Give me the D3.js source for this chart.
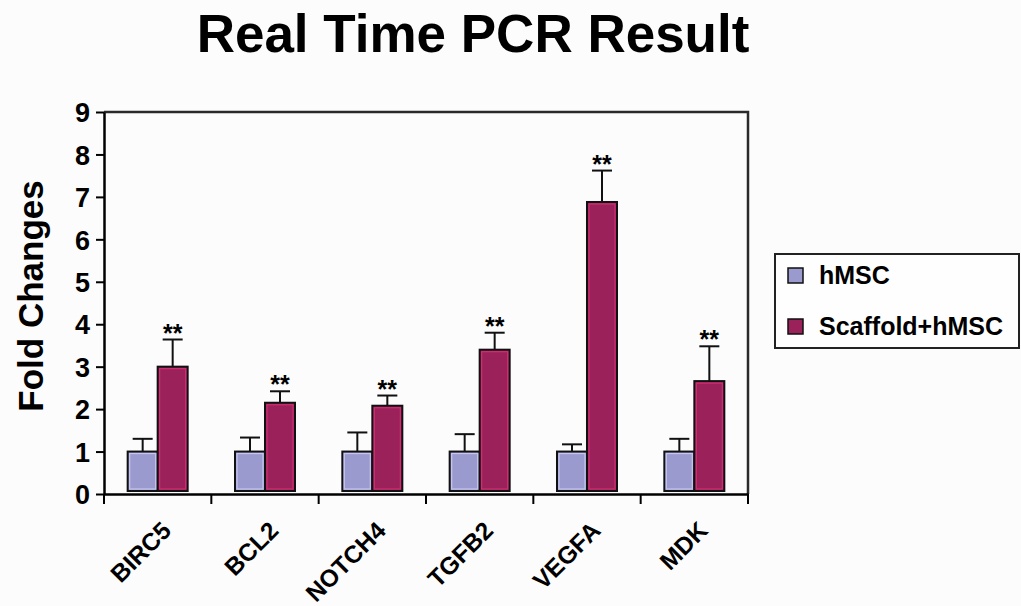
<!DOCTYPE html>
<html>
<head>
<meta charset="utf-8">
<script src="https://cdn.jsdelivr.net/npm/d3@7"></script>
<style>
  html, body { margin: 0; padding: 0; background: #fcfcfc; }
  svg { display: block; }
  text { font-family: "Liberation Sans", Arial, Helvetica, sans-serif; font-weight: bold; fill: #000; }
</style>
</head>
<body>
<script>
// Gene categories and series
const genes = ["BIRC5", "BCL2", "NOTCH4", "TGFB2", "VEGFA", "MDK"];
const seriesNames = ["hMSC", "Scaffold+hMSC"];

// Mean fold change per gene
const hmscValues = [1.0, 1.0, 1.0, 1.0, 1.0, 1.0];
const scaffoldValues = [3.0, 2.15, 2.08, 3.4, 6.88, 2.66];

// Upper error (SD) per gene
const hmscErrors = [0.3, 0.33, 0.45, 0.41, 0.17, 0.3];
const scaffoldErrors = [0.64, 0.27, 0.24, 0.4, 0.74, 0.82];

// Significance markers over the Scaffold+hMSC bars
const significance = ["**", "**", "**", "**", "**", "**"];

// Y-axis tick values
const yTicks = [0, 1, 2, 3, 4, 5, 6, 7, 8, 9];

const colors = { "hMSC": "#9a9acf", "Scaffold+hMSC": "#9b215b" };
const highlight = { "hMSC": "#c6c6ee", "Scaffold+hMSC": "#cf2f70" };

const W = 1021, H = 606;
const plot = { left: 104, right: 748, top: 112, bottom: 494 };

const rows = genes.map((g, i) => ({
  gene: g,
  sig: significance[i],
  bars: [
    { series: "hMSC", value: hmscValues[i], err: hmscErrors[i] },
    { series: "Scaffold+hMSC", value: scaffoldValues[i], err: scaffoldErrors[i] }
  ]
}));

const svg = d3.select("body").append("svg").attr("width", W).attr("height", H);
svg.append("rect").attr("width", W).attr("height", H).attr("fill", "#fcfcfc");

const x = d3.scaleBand().domain(genes).range([plot.left, plot.right]).padding(0);
const bw = x.bandwidth();
const x1 = d3.scaleBand().domain(seriesNames).range([bw / 2 - 30, bw / 2 + 30]).padding(0);
const y = d3.scaleLinear().domain([0, 9]).range([plot.bottom, plot.top]);

// Title
svg.append("text")
  .attr("x", 473).attr("y", 52)
  .attr("text-anchor", "middle")
  .style("font-size", "53px")
  .text("Real Time PCR Result");

// Y axis title
svg.append("text")
  .attr("transform", "translate(43,296) rotate(-90)")
  .attr("text-anchor", "middle")
  .style("font-size", "35px")
  .text("Fold Changes");

// Frame: top and right edges
svg.append("path")
  .attr("d", `M${plot.left},${y(9)}H${plot.right}V${plot.bottom}`)
  .attr("fill", "none").attr("stroke", "#2a2a2a").attr("stroke-width", 2.5);

// Bars
const groups = svg.append("g").selectAll("g").data(rows).join("g")
  .attr("transform", d => `translate(${x(d.gene)},0)`);

groups.selectAll("rect.bar").data(d => d.bars).join("rect")
  .attr("class", "bar")
  .attr("x", d => x1(d.series))
  .attr("y", d => y(d.value))
  .attr("width", x1.bandwidth())
  .attr("height", d => y(0) - y(d.value) - 3)
  .attr("fill", d => colors[d.series])
  .attr("stroke", "#111").attr("stroke-width", 2);

// Inner highlight edge on each bar
groups.selectAll("rect.hl").data(d => d.bars).join("rect")
  .attr("class", "hl")
  .attr("x", d => x1(d.series) + 2)
  .attr("y", d => y(d.value) + 2)
  .attr("width", x1.bandwidth() - 4)
  .attr("height", d => y(0) - y(d.value) - 7)
  .attr("fill", "none")
  .attr("stroke", d => highlight[d.series]).attr("stroke-width", 1.2);

// Error bars (upper only)
const eb = groups.selectAll("g.err").data(d => d.bars).join("g").attr("class", "err");
eb.append("line")
  .attr("x1", d => x1(d.series) + x1.bandwidth() / 2)
  .attr("x2", d => x1(d.series) + x1.bandwidth() / 2)
  .attr("y1", d => y(d.value))
  .attr("y2", d => y(d.value + d.err))
  .attr("stroke", "#111").attr("stroke-width", 2);
eb.append("line")
  .attr("x1", d => x1(d.series) + x1.bandwidth() / 2 - 10)
  .attr("x2", d => x1(d.series) + x1.bandwidth() / 2 + 10)
  .attr("y1", d => y(d.value + d.err))
  .attr("y2", d => y(d.value + d.err))
  .attr("stroke", "#111").attr("stroke-width", 2);

// Significance stars
groups.append("text")
  .attr("x", x1("Scaffold+hMSC") + x1.bandwidth() / 2)
  .attr("y", d => y(d.bars[1].value + d.bars[1].err) + 2)
  .attr("text-anchor", "middle")
  .style("font-size", "25px")
  .text(d => d.sig);

// Y axis
const yAxis = svg.append("g")
  .attr("transform", `translate(${plot.left},0)`)
  .call(d3.axisLeft(y).tickValues(yTicks).tickFormat(d3.format("d")).tickSize(8).tickPadding(6).tickSizeOuter(0));
yAxis.select(".domain").attr("stroke", "#000").attr("stroke-width", 2.5);
yAxis.selectAll(".tick line").attr("stroke", "#000").attr("stroke-width", 2);
yAxis.selectAll(".tick text")
  .style("font-size", "27px")
  .style("font-family", '"Liberation Sans", Arial, sans-serif')
  .style("font-weight", "bold")
  .attr("dy", "0.36em")
  .attr("fill", "#000");

// X axis: baseline with ticks at category boundaries
const xAxis = svg.append("g")
  .attr("transform", `translate(0,${plot.bottom})`)
  .call(d3.axisBottom(x).tickSize(0).tickSizeOuter(0).tickFormat(""));
xAxis.select(".domain").attr("stroke", "#000").attr("stroke-width", 2.5);
const bounds = genes.map(g => x(g)).concat([x.range()[1]]);
xAxis.selectAll("line.bound").data(bounds).join("line")
  .attr("class", "bound")
  .attr("x1", d => d).attr("x2", d => d)
  .attr("y1", 0).attr("y2", 10)
  .attr("stroke", "#000").attr("stroke-width", 2);

// Rotated category labels
svg.append("g").selectAll("text").data(genes).join("text")
  .attr("transform", d => `translate(${x(d) + bw / 2 + 15},532) rotate(-45)`)
  .attr("text-anchor", "end")
  .style("font-size", "24.5px")
  .text(d => d);

// Legend
const lg = svg.append("g");
lg.append("rect")
  .attr("x", 775).attr("y", 254).attr("width", 244).attr("height", 94)
  .attr("fill", "#fefefe").attr("stroke", "#222").attr("stroke-width", 2);
const items = lg.selectAll("g.item").data(seriesNames).join("g")
  .attr("class", "item")
  .attr("transform", (d, i) => `translate(788,${268 + i * 51})`);
items.append("rect")
  .attr("width", 15).attr("height", 15)
  .attr("fill", d => colors[d])
  .attr("stroke", "#111").attr("stroke-width", 1.5);
items.append("text")
  .attr("x", 31).attr("y", 16)
  .style("font-size", "25px")
  .text(d => d);
</script>
</body>
</html>
